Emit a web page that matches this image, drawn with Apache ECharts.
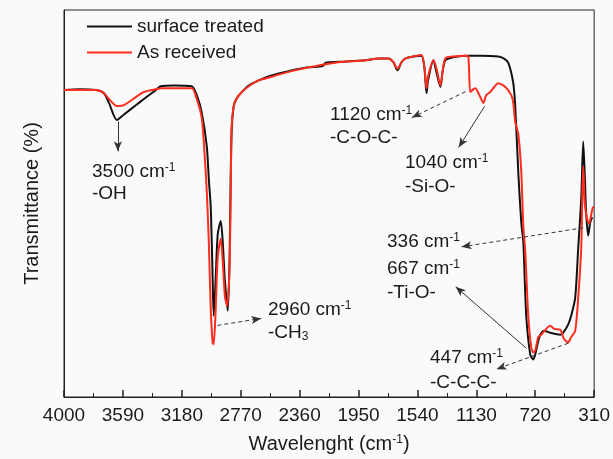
<!DOCTYPE html>
<html>
<head>
<meta charset="utf-8">
<script src="https://cdn.jsdelivr.net/npm/echarts@6/dist/echarts.min.js"></script>
<style>
html,body{margin:0;padding:0;background:#fafafa;}
#chart{width:613px;height:459px;}
</style>
</head>
<body>
<div id="chart"></div>
<script>
// Tick labels of the wavenumber axis (cm-1)
const tickLabels = [4000, 3590, 3180, 2770, 2360, 1950, 1540, 1130, 720, 310];
const seriesNames = ['surface treated', 'As received'];

// surface treated (black)
const treatedWave = [4000,3896,3778,3722,3687,3632,3583,3500,3444,3361,3326,3236,3111,3076,3041,3006,2992,2978,2965,2958,2945,2930,2909,2895,2880,2860,2848,2840,2833,2820,2805,2770,2714,2645,2596,2506,2416,2297,2200,2179,2089,1901,1811,1742,1707,1679,1651,1623,1568,1512,1491,1477,1465,1429,1408,1380,1365,1346,1290,1207,1100,977,940,908,873,859,838,817,803,783,755,734,720,699,685,658,616,546,526,491,470,442,421,400,386,373,366,352,338,324];
const treatedT = [79.3,79.5,79.3,78.5,76,71.6,73,75.4,77,79.3,80.3,80.5,80.3,78,73.4,64.7,56.3,48.6,30,21.0,30,42,45.5,40,30,22.3,35,56.3,69,74.9,76.7,78.5,80.5,81.8,82.6,83.6,84.4,85.2,85.5,86.4,86.6,87.0,87.5,87.5,86.5,84.4,86.5,87.5,88.0,88.2,85,78.5,82,87.0,84,80.1,84,87.0,87.8,88.2,88.2,88.0,87.5,86.4,81.1,74.9,58,45,40,21.2,11,9.7,11,14.5,16.1,17.1,16.6,16.1,16.6,18.7,21,25.6,38.4,51.2,66.0,55,47.8,41.7,45,46.5];

// as received (red)
const receivedWave = [4000,3896,3778,3722,3687,3632,3583,3500,3444,3361,3326,3236,3111,3076,3041,3020,3006,2992,2978,2965,2958,2945,2930,2909,2895,2880,2865,2848,2840,2833,2820,2805,2770,2714,2645,2596,2506,2416,2297,2179,2089,1901,1811,1742,1707,1679,1651,1623,1568,1512,1491,1477,1465,1429,1408,1380,1365,1346,1290,1207,1186,1172,1151,1137,1109,1081,1061,1033,977,928,887,873,859,838,817,803,790,769,748,734,720,699,678,616,588,546,520,491,470,442,421,400,393,386,375,359,345,331,317,310];
const receivedT = [79.3,79.3,79.3,78.5,77,75.2,75.4,77.5,78.8,79.5,79.8,79.8,79.8,77,72,62,53,40,22,14,13.6,22,36,40.9,35,26,23.5,33,52,70,74.9,76.7,78.5,80.3,81.8,82.3,83.3,84.2,85.2,86.0,86.5,87.0,87.5,87.5,86.5,84.8,86.5,87.5,88.0,88.4,85,79.8,83,87.0,85,80.5,84,87.5,88.0,88.2,88.0,78.8,79.5,79.8,78,76.0,78,78.8,81.1,80.1,78,76.0,71,68,58.1,44,38,21.2,12.8,11.5,12,15.5,16.1,18.4,17.6,17.4,15,14.1,15.5,17.1,25.6,38.4,51,59.6,50,46,44.8,47,49.1,49.1];

// annotation arrows: [fromWave, fromT, toWave, toT, dashed]
const arrows = [
  [3625, 71.2, 3625, 63.5, false],
  [2932, 18.5, 2627, 20.3, true],
  [1205, 78.9, 1579, 72.2, true],
  [1073, 75.1, 1253, 64.5, false],
  [338, 44.0, 1233, 38.8, true],
  [782, 12.6, 1274, 28.5, false],
  [490, 13.9, 990, 7.2, true]
];

const X0 = tickLabels[0];           // axis measured as distance from 4000 cm-1
const toX = w => X0 - w;
const pairs = (ws, ts) => ws.map((w, i) => [toX(w), ts[i]]);

const chart = echarts.init(document.getElementById('chart'));
const FONT = 'Liberation Sans, Arial, sans-serif';
const rich = {
  a: {fontSize: 19, fontFamily: FONT, color: '#1a1a1a'},
  s: {fontSize: 12, fontFamily: FONT, color: '#1a1a1a', verticalAlign: 'top', padding: [0,0,8,0]},
  b: {fontSize: 12, fontFamily: FONT, color: '#1a1a1a', verticalAlign: 'bottom', padding: [8,0,0,0]}
};
function label(x, y, text) {
  return {type: 'text', x: x, y: y, z: 100,
    style: {text: text, rich: rich, verticalAlign: 'middle', align: 'left', fontSize: 19, fontFamily: FONT, fill: '#1a1a1a'}};
}

const arrowLines = arrows.map(a => [
  {coord: [toX(a[0]), a[1]], symbol: 'none',
   lineStyle: {type: a[4] ? [4, 3] : 'solid', color: '#333', width: 1}},
  {coord: [toX(a[2]), a[3]], symbol: 'arrow', symbolSize: [6, 10]}
]);

chart.setOption({
  backgroundColor: '#fafafa',
  animation: false,
  grid: {left: 64, right: 17, top: 10, bottom: 60, show: true, borderColor: '#222', borderWidth: 1, backgroundColor: 'transparent'},
  legend: {
    orient: 'vertical', left: 87, top: 17, padding: 0, icon: 'rect', itemWidth: 45, itemHeight: 2, itemGap: 7,
    textStyle: {fontSize: 19, fontFamily: FONT, color: '#1a1a1a', lineHeight: 19},
    data: seriesNames
  },
  xAxis: {
    type: 'value', min: 0, max: X0 - tickLabels[tickLabels.length - 1], interval: 410,
    name: '{a|Wavelenght (cm}{s|-1}{a|)}', nameLocation: 'middle', nameGap: 37,
    nameTextStyle: {rich: {
      a: {fontSize: 20, fontFamily: FONT, color: '#1a1a1a'},
      s: {fontSize: 12, fontFamily: FONT, color: '#1a1a1a', verticalAlign: 'top', padding: [0,0,8,0]}
    }},
    axisLine: {lineStyle: {color: '#222', width: 1}},
    axisTick: {inside: true, length: 7, lineStyle: {color: '#222', width: 1.5}},
    minorTick: {show: true, splitNumber: 2, length: 4, lineStyle: {color: '#222', width: 1}},
    splitLine: {show: false},
    axisLabel: {fontSize: 19, fontFamily: FONT, color: '#1a1a1a', margin: 9,
      formatter: v => String(X0 - v)}
  },
  yAxis: {
    type: 'value', min: 0, max: 100,
    name: 'Transmittance (%)', nameLocation: 'middle', nameGap: 22,
    nameTextStyle: {fontSize: 20, fontFamily: FONT, color: '#1a1a1a'},
    axisLine: {show: true, lineStyle: {color: '#222'}},
    axisTick: {show: false}, axisLabel: {show: false}, splitLine: {show: false}
  },
  series: [
    {name: seriesNames[0], type: 'line', data: pairs(treatedWave, treatedT), showSymbol: false, symbol: 'none',
     smooth: 0.25, lineStyle: {color: '#111', width: 2}, itemStyle: {color: '#111'}, z: 2},
    {name: seriesNames[1], type: 'line', data: pairs(receivedWave, receivedT), showSymbol: false, symbol: 'none',
     smooth: 0.25, lineStyle: {color: '#ff2d1e', width: 2}, itemStyle: {color: '#ff2d1e'}, z: 3,
     markLine: {silent: true, animation: false, symbol: ['none', 'arrow'], symbolSize: [6, 10],
       label: {show: false}, lineStyle: {color: '#333', width: 1}, data: arrowLines}}
  ],
  graphic: [
    label(92, 172, '{a|3500 cm}{s|-1}'),
    label(92, 194, '{a|-OH}'),
    label(268, 310, '{a|2960 cm}{s|-1}'),
    label(268, 333, '{a|-CH}{b|3}'),
    label(330, 115, '{a|1120 cm}{s|-1}'),
    label(330, 138, '{a|-C-O-C-}'),
    label(405, 163, '{a|1040 cm}{s|-1}'),
    label(405, 187, '{a|-Si-O-}'),
    label(387, 242, '{a|336 cm}{s|-1}'),
    label(387, 269, '{a|667 cm}{s|-1}'),
    label(387, 293, '{a|-Ti-O-}'),
    label(430, 358, '{a|447 cm}{s|-1}'),
    label(430, 383, '{a|-C-C-C-}')
  ]
});
</script>
</body>
</html>
